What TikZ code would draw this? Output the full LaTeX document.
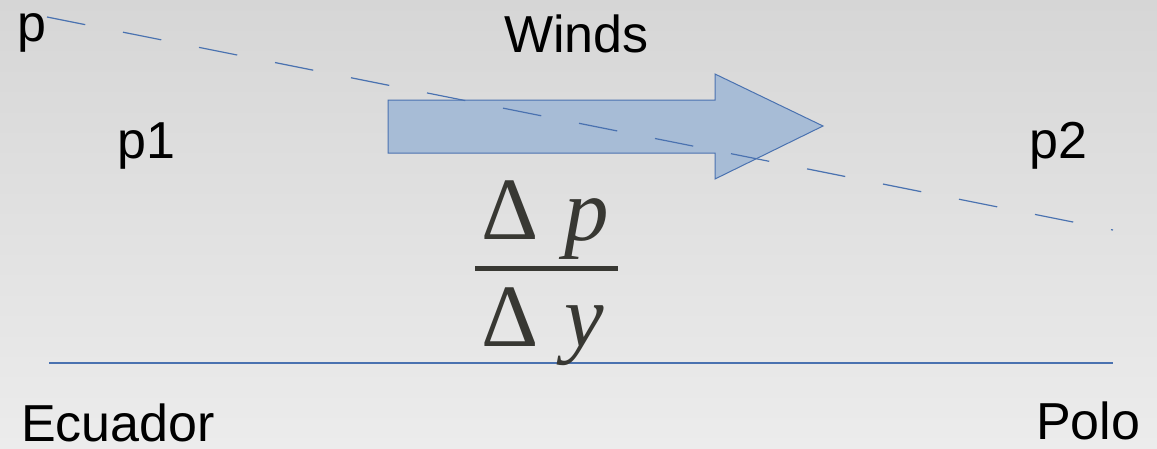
\documentclass[tikz,border=0pt]{standalone}
\usepackage{fontspec}
\setmainfont{Liberation Sans}
\newfontfamily\mathser{Liberation Serif}
\definecolor{lineblue}{HTML}{4A72B0}
\definecolor{arrowfill}{HTML}{A7BCD6}
\definecolor{mathdark}{HTML}{383833}
\begin{document}
\begin{tikzpicture}[x=1pt,y=-1pt,
  lbl/.style={anchor=base west,inner sep=0pt,font=\fontsize{52}{60}\selectfont,text=black},
  mth/.style={anchor=base west,inner sep=0pt,font=\mathser\fontsize{89}{96}\selectfont,text=mathdark},
  bluel/.style={draw=lineblue,line width=1.2pt}]
\shade[top color={rgb,255:red,214;green,214;blue,214},bottom color={rgb,255:red,236;green,236;blue,236}] (0,0) rectangle (1157,448);
\useasboundingbox (0,0) rectangle (1157,448);
% dashed pressure line
\coordinate (ds) at (47,17);
\coordinate (de) at (1113,230);
% arrow
\path[draw=lineblue,fill=arrowfill,line width=1pt]
  (388,100) -- (715,100) -- (715,74) -- (823,126) -- (715,179) -- (715,153) -- (388,153) -- cycle;
\node[coordinate] (arrowtip) at (823,126) {};
\draw[bluel,dash pattern=on 39pt off 38.5pt] (ds) -- (de);
% ground line
\coordinate (gs) at (49,363);
\coordinate (ge) at (1113,363);
\draw[bluel] (gs) -- (ge);
% labels
\node[lbl] (p) at (17,41) {p};
\node[lbl] (winds) at (504,52) {Winds};
\node[lbl] (p1) at (117,158) {p1};
\node[lbl] (p2) at (1029,158) {p2};
\node[lbl] (ecu) at (21,441) {Ecuador};
\node[lbl] (polo) at (1036,439) {Polo};
% fraction
\node[mth] (dn) at (481,239) {Δ};
\node[mth] (pn) at (564,240) {\itshape p};
\node[mth] (dd) at (481,346) {Δ};
\node[mth] (yd) at (564,346) {\itshape y};
\coordinate (fb1) at (475,268.5);
\coordinate (fb2) at (618,268.5);
\draw[mathdark,line width=5pt] (fb1) -- (fb2);
\end{tikzpicture}
\end{document}
